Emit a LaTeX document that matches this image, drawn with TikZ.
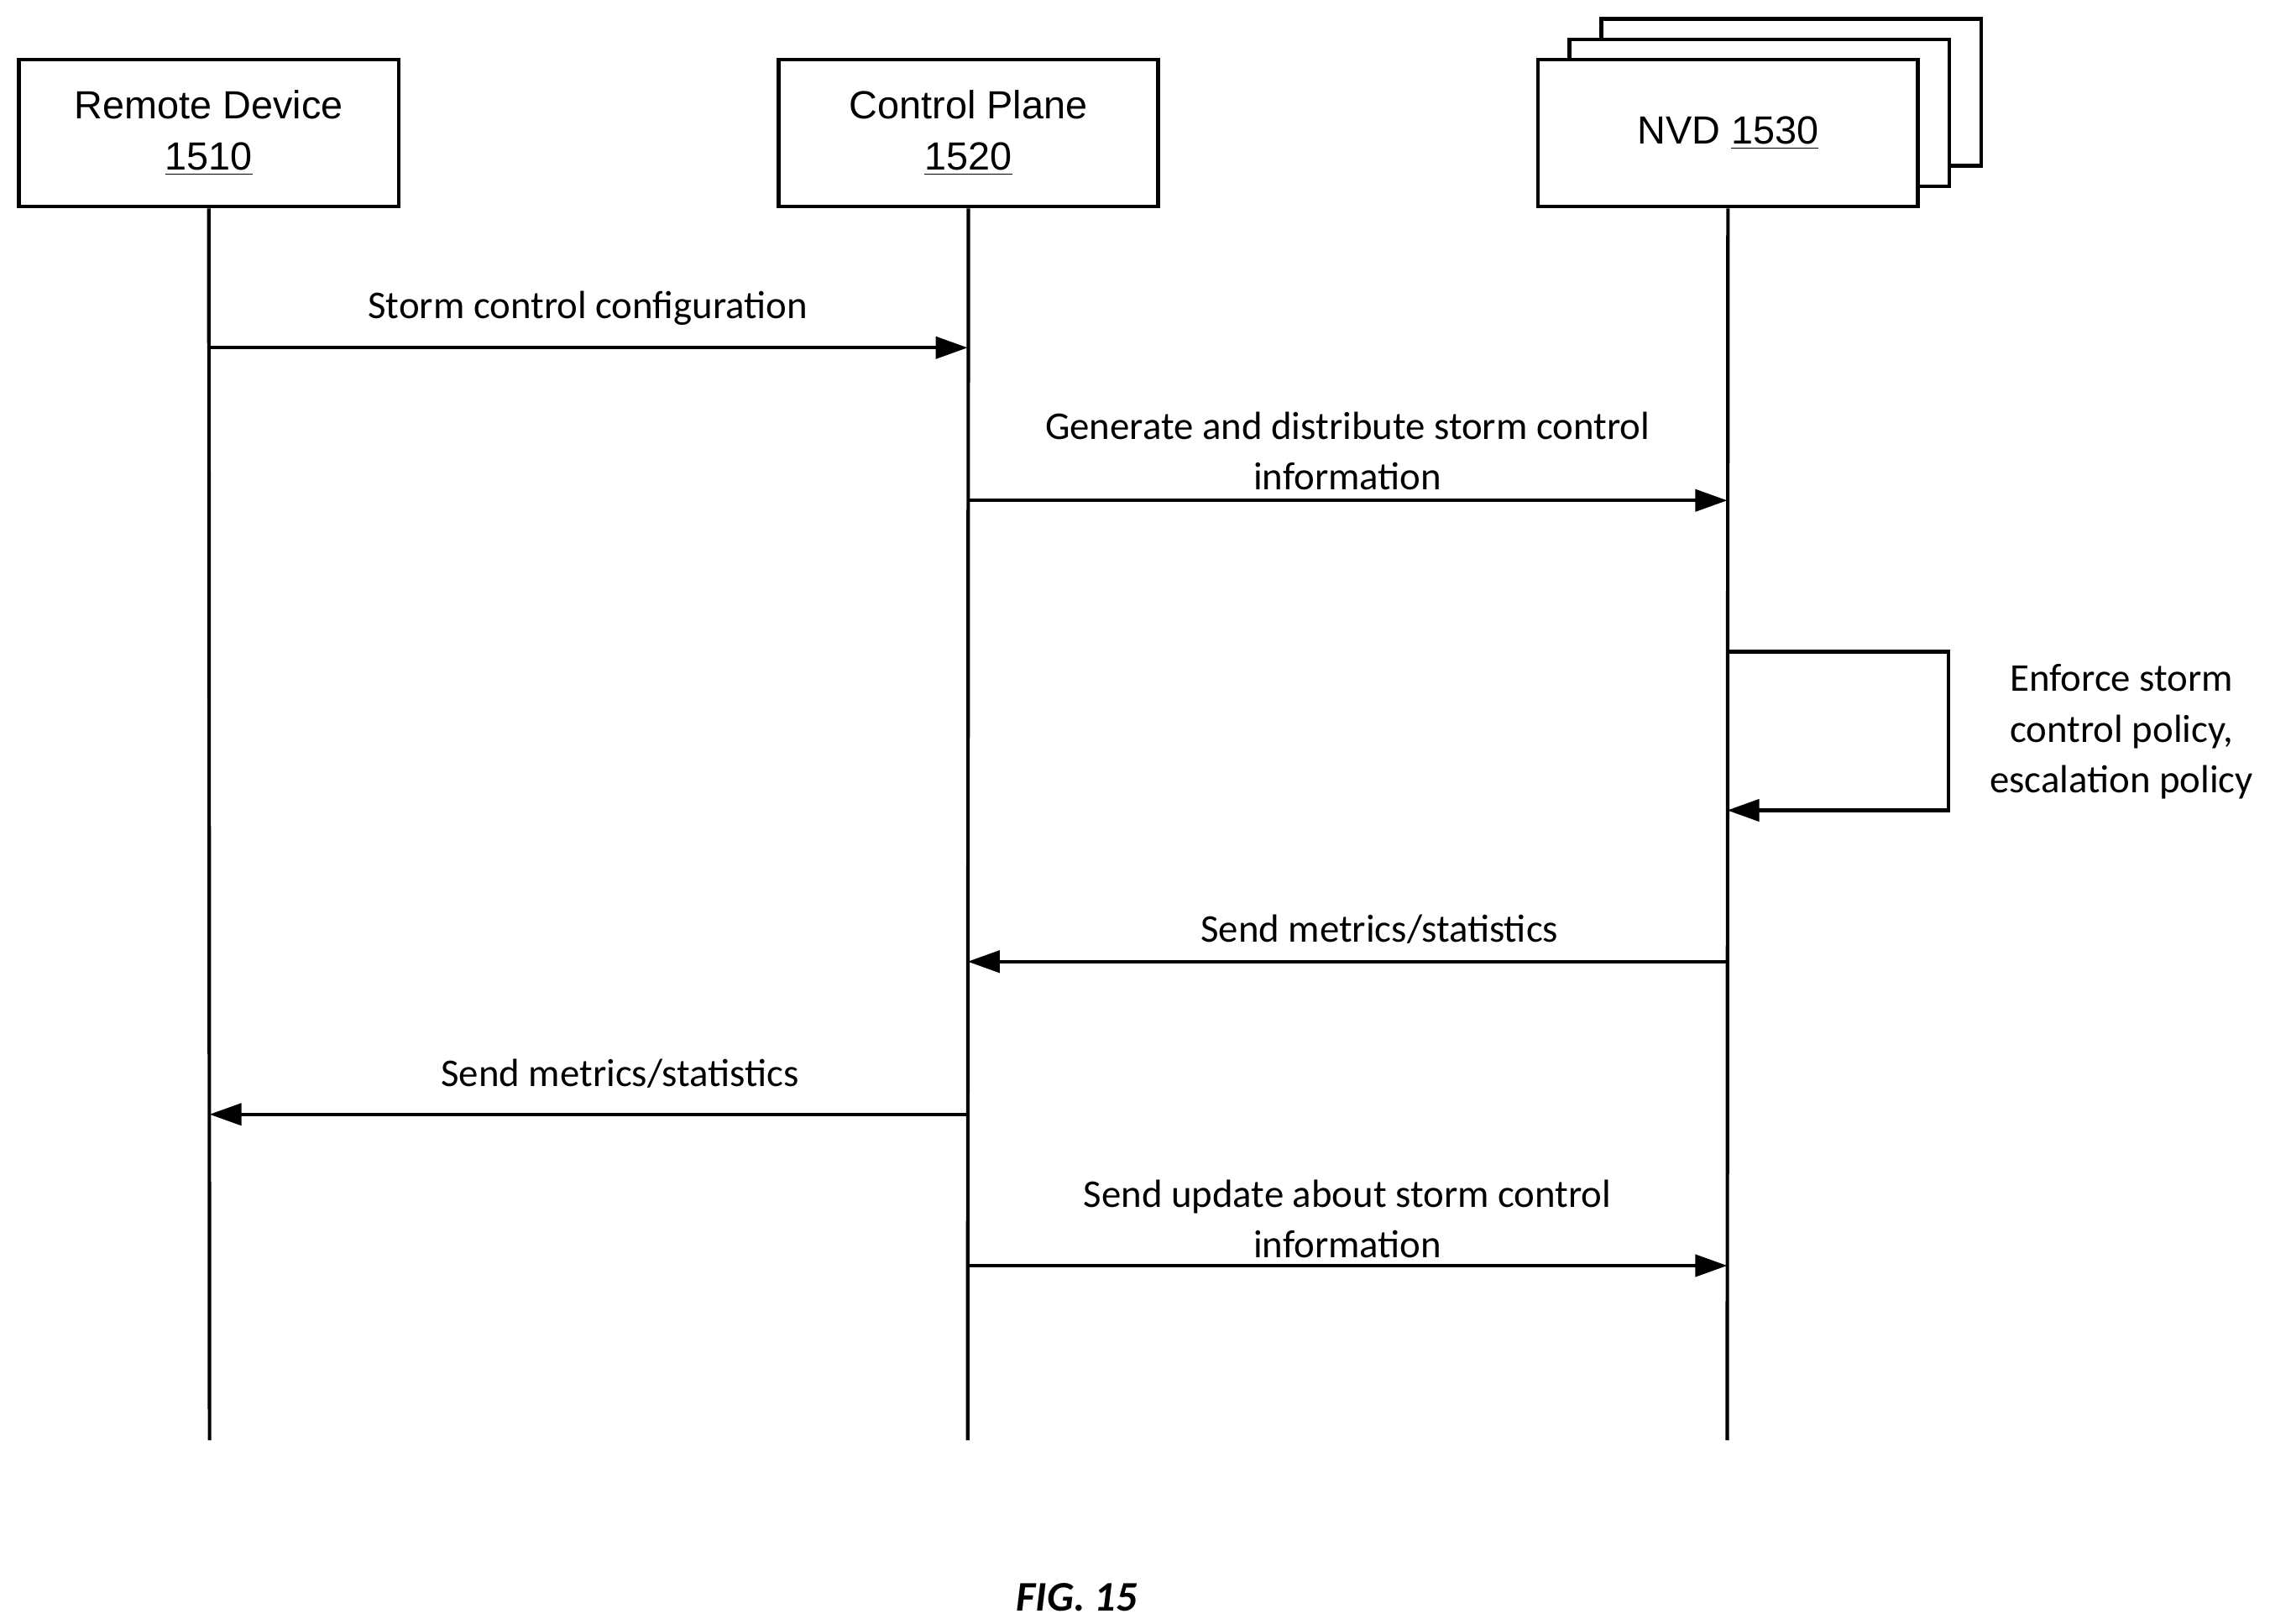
\documentclass[tikz,border=0pt]{standalone}
\usepackage{fontspec}
\setmainfont{Carlito}
\newfontfamily\boxfont{Liberation Sans}
\usetikzlibrary{arrows.meta}
\begin{document}
\begin{tikzpicture}[x=0.5pt,y=-0.5pt,
  box/.style={draw,line width=1.3pt,fill=white,minimum width=130.5pt,minimum height=50.5pt,align=center,font=\boxfont\fontsize{13.5}{17.5}\selectfont,inner sep=0pt},
  life/.style={line width=1.2pt},
  msg/.style={line width=1.2pt,-{Triangle[length=11pt,width=7.5pt]}},
  lbl/.style={font=\fontsize{13.5}{17.5}\selectfont,align=center,inner sep=0pt}]
\useasboundingbox (0,0) rectangle (1560,1116);
\node[box] (n3) at (1231,63.5) {};
\node[box] (n2) at (1209,77.5) {};
\node[box] (rd) at (143.5,91.5) {Remote Device\\\underline{1510}};
\node[box] (cp) at (665.5,91.5) {Control Plane\\\underline{1520}};
\node[box] (nvd) at (1187.5,91.5) {NVD \underline{1530}};
\coordinate (rdE) at (144,990); \coordinate (cpE) at (665,990); \coordinate (nvE) at (1187,990);
\draw[life] (rd.south) -- (rdE);
\draw[life] (cp.south) -- (cpE);
\draw[life] (nvd.south) -- (nvE);
% messages
\coordinate (a1) at (144,239); \coordinate (b1) at (665,239);
\draw[msg] (a1) -- (b1);
\node[lbl] (l1) at (404,212) {Storm control configuration};
\coordinate (a2) at (665,344); \coordinate (b2) at (1187,344);
\draw[msg] (a2) -- (b2);
\node[lbl] (l2) at (926,310) {Generate and distribute storm control\\information};
\coordinate (a3) at (1187,448); \coordinate (b3) at (1187,557);
\draw[msg] (a3) -- (1339,448) -- (1339,557) -- (b3);
\node[lbl] (l3) at (1458,503) {Enforce storm\\control policy,\\escalation policy};
\coordinate (a4) at (1187,661); \coordinate (b4) at (665,661);
\draw[msg] (a4) -- (b4);
\node[lbl] (l4) at (948,639) {Send metrics/statistics};
\coordinate (a5) at (665,766); \coordinate (b5) at (144,766);
\draw[msg] (a5) -- (b5);
\node[lbl] (l5) at (426,738) {Send metrics/statistics};
\coordinate (a6) at (665,870); \coordinate (b6) at (1187,870);
\draw[msg] (a6) -- (b6);
\node[lbl] (l6) at (926,838) {Send update about storm control\\information};
\node[font=\fontsize{14.5}{17}\selectfont\bfseries\itshape] (fig) at (740,1098) {FIG. 15};
\end{tikzpicture}
\end{document}
